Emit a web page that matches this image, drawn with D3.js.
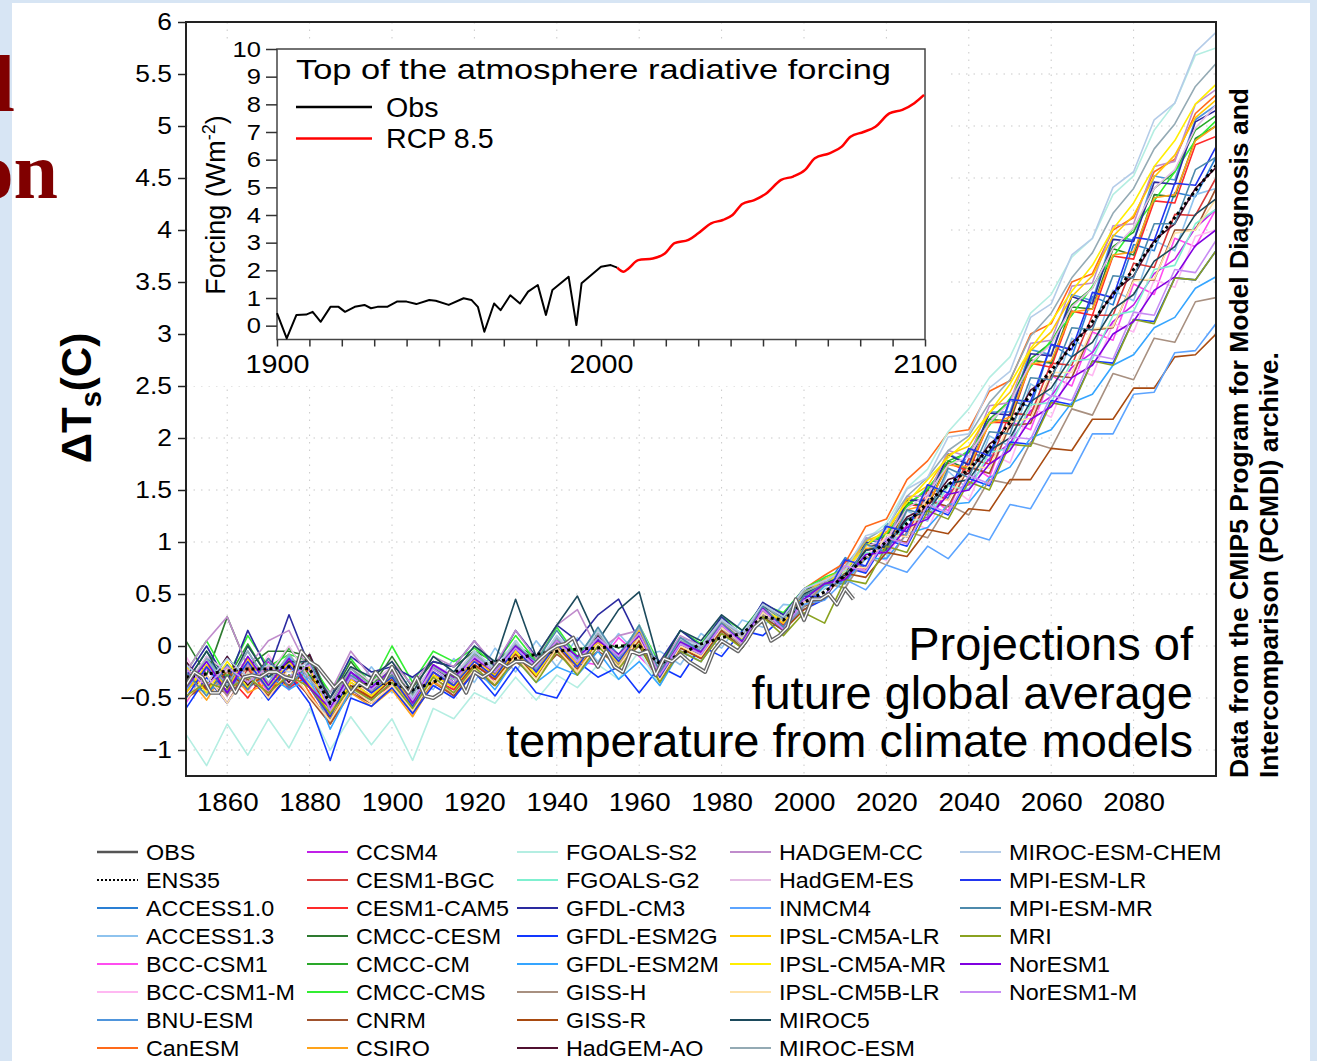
<!DOCTYPE html>
<html>
<head>
<meta charset="utf-8">
<script src="https://cdn.jsdelivr.net/npm/d3@7"></script>
<style>
  body { margin: 0; background: #d7e5f4; }
  svg { display: block; }
  text { font-family: "Liberation Sans", Arial, Helvetica, sans-serif; fill: #000; }
</style>
</head>
<body>
<svg id="chart" width="1317" height="1061"></svg>
<script>
// ---- data (temperatures in hundredths of a degree, 5-year steps) ----
var years = [1850,1855,1860,1865,1870,1875,1880,1885,1890,1895,1900,1905,1910,1915,1920,1925,1930,1935,1940,1945,
             1950,1955,1960,1965,1970,1975,1980,1985,1990,1995,2000,2005,2010,2015,2020,2025,2030,2035,2040,2045,
             2050,2055,2060,2065,2070,2075,2080,2085,2090,2095,2100];

var modelNames = ["ACCESS1.0","ACCESS1.3","BCC-CSM1","BCC-CSM1-M","BNU-ESM","CanESM",
  "CCSM4","CESM1-BGC","CESM1-CAM5","CMCC-CESM","CMCC-CM","CMCC-CMS","CNRM","CSIRO",
  "FGOALS-S2","FGOALS-G2","GFDL-CM3","GFDL-ESM2G","GFDL-ESM2M","GISS-H","GISS-R","HadGEM-AO",
  "HADGEM-CC","HadGEM-ES","INMCM4","IPSL-CM5A-LR","IPSL-CM5A-MR","IPSL-CM5B-LR","MIROC5","MIROC-ESM",
  "MIROC-ESM-CHEM","MPI-ESM-LR","MPI-ESM-MR","MRI","NorESM1","NorESM1-M"];

var modelColors = ["#2a7fd4","#8ec3ee","#ff4df0","#ffb8f2","#4f95dc","#ff6a1a",
  "#c020e8","#d93a3a","#ff2a2a","#2e7a30","#2aa82a","#33ee33","#a0522d","#ffa31a",
  "#b4eee2","#7ff0d0","#2a2aa0","#1238ff","#35a5ff","#a89080","#a84a10","#501030",
  "#c08ccc","#e4bce4","#5ca4ff","#ffc800","#ffee00","#ffe2a8","#1c4a5c","#94aab4",
  "#b4cce8","#2236f0","#4d8aac","#8aa220","#8000e0","#c88cf4"];

var modelTemps = [
  [-45,-10,-35,-5,-38,-12,-30,-62,-25,-45,-30,-50,-20,-38,-10,-28,0,-22,8,-15,10,-12,15,-28,5,-8,22,5,38,20,50, 55,85,75,118,105,155,142,188,178,236,230,290,278,336,328,386,380,436,432,470],
  [-20,-42,-10,-38,-18,-30,-8,-50,-48,-20,-45,-30,-42,-12,-35,-2,-25,5,-20,8,-15,12,-10,-5,-18,12,-2,25,18,40,38, 62,55,98,84,130,120,168,150,202,192,252,240,296,282,342,332,390,380,434,440],
  [-55,-22,-48,-15,-45,-20,-40,-70,-40,-52,-35,-62,-32,-42,-18,-32,-8,-28,-2,-15,-18,8,-10,-30,0,-10,18,10,32,22,45, 45,82,72,110,98,145,130,176,162,216,208,260,250,302,294,348,338,392,384,420],
  [-10,-42,-18,-45,-8,-38,-15,-55,-28,-52,-22,-48,-32,-30,-20,-22,-8,-18,5,-18,6,-14,12,-25,2,0,15,5,35,15,50, 62,60,94,82,122,112,155,140,186,176,230,220,268,260,310,302,352,345,394,400],
  [-38,-15,-28,-18,-25,-15,-30,-58,-20,-45,-22,-50,-20,-35,-5,-28,5,-20,10,-12,12,-8,18,-18,8,2,25,8,42,25,52, 65,64,104,96,142,138,185,175,225,225,285,280,338,332,395,390,452,448,506,520],
  [-50,-35,-42,-20,-48,-12,-45,-75,-40,-48,-32,-58,-28,-38,-20,-28,-10,-20,-5,-12,2,-10,5,-28,-2,-5,18,12,38,28,55, 68,80,115,122,160,178,205,208,245,255,300,310,350,358,400,412,456,468,512,530],
  [-25,-40,-30,-42,-15,-42,-18,-65,-35,-48,-30,-55,-25,-40,-12,-35,-2,-25,2,-20,10,-12,8,-28,5,-10,20,0,35,18,45, 58,65,88,92,116,124,148,155,180,195,226,240,268,282,312,328,358,372,402,420],
  [-52,-28,-55,-22,-50,-28,-48,-72,-42,-55,-40,-65,-32,-48,-22,-38,-12,-28,-4,-25,2,-18,10,-35,-2,-12,15,2,32,20,42, 45,82,74,110,105,150,140,180,175,224,222,272,270,318,318,368,364,415,414,450],
  [-30,-40,-28,-50,-20,-40,-28,-68,-40,-50,-38,-62,-32,-42,-18,-32,-8,-30,0,-20,5,-15,10,-30,-5,-10,14,5,30,22,40, 58,64,98,94,136,134,176,168,215,215,272,268,322,318,375,372,428,426,482,490],
  [5,-28,28,-20,-5,-5,-10,-50,-15,-40,-10,-40,-15,-20,-5,-15,0,-10,2,-5,5,-2,8,-20,8,-5,22,10,35,28,50, 60,62,100,92,138,134,178,170,218,216,275,272,326,324,382,376,434,432,488,500],
  [-35,-5,-32,2,-30,-2,-28,-55,-20,-38,-22,-48,-18,-30,-8,-20,-2,-12,2,-5,5,-8,12,-22,5,-2,20,10,38,25,52, 64,70,98,106,136,150,178,186,218,236,276,292,328,344,384,398,440,456,496,510],
  [-25,5,-30,10,-20,-8,-15,-45,-12,-38,0,-35,-5,-15,-2,-18,10,-15,18,-10,15,-12,20,-18,15,2,28,15,40,32,55, 66,74,98,108,134,152,174,188,212,238,268,294,318,346,374,402,428,456,486,505],
  [-50,-38,-45,-32,-48,-20,-50,-75,-45,-55,-40,-62,-35,-48,-25,-38,-15,-30,-8,-22,-5,-18,0,-35,-5,-15,12,0,28,15,38, 46,74,72,102,100,140,134,172,166,212,214,260,258,304,306,352,352,400,400,440],
  [-28,-52,-20,-45,-35,-38,-22,-70,-45,-58,-42,-68,-35,-45,-22,-35,-8,-30,0,-25,5,-20,10,-28,2,-8,18,5,32,22,45, 58,64,94,94,131,136,174,172,214,220,271,274,321,324,376,379,431,434,486,500],
  [-85,-115,-75,-105,-70,-98,-60,-100,-68,-95,-70,-110,-60,-70,-45,-55,-30,-52,-28,-40,-18,-32,-5,-38,-2,-15,15,0,30,15,40, 56,72,102,118,152,170,206,228,258,278,320,338,374,392,434,452,496,522,568,575],
  [-40,-12,-45,-15,-40,-8,-38,-58,-28,-40,-25,-50,-22,-35,-10,-25,0,-22,5,-18,10,-14,16,-28,4,-6,20,4,36,18,44, 60,62,90,88,121,122,154,150,186,190,232,234,274,276,318,322,362,366,406,420],
  [-30,0,-35,15,-25,30,-20,-50,-10,-25,-20,-30,-15,-20,5,-20,15,-10,20,5,30,45,5,-15,15,0,28,10,42,30,55, 60,62,100,94,140,140,184,174,224,222,281,279,336,329,391,389,446,444,504,515],
  [-60,-30,-55,-25,-52,-28,-55,-110,-50,-58,-40,-65,-38,-50,-25,-48,-20,-45,-50,-15,-30,-20,-45,-20,-30,0,-10,15,10,28,35, 45,76,70,102,96,134,126,161,154,196,194,236,232,274,272,314,312,354,352,380],
  [-35,-45,-30,-40,-28,-42,-30,-80,-42,-52,-35,-62,-32,-45,-20,-42,-12,-35,-20,-28,-5,-32,-15,-38,-5,-15,15,-2,28,15,38, 58,62,84,84,108,114,136,138,162,172,200,208,234,242,270,280,306,316,344,355],
  [-45,-20,-48,-18,-42,-15,-40,-70,-35,-48,-30,-52,-25,-38,-15,-30,-5,-28,0,-18,5,-18,8,-30,0,-10,18,0,30,18,38, 60,56,86,78,110,104,136,126,160,156,196,190,228,222,262,256,296,292,331,335],
  [-28,-42,-25,-40,-25,-38,-22,-72,-38,-50,-32,-55,-28,-40,-18,-32,-8,-30,-2,-20,2,-20,5,-32,-2,-12,15,-2,28,15,35, 48,70,66,90,86,112,108,132,130,160,160,190,188,218,218,248,248,278,280,300],
  [-15,-40,-10,-38,-12,-35,-8,-55,-25,-42,-28,-50,-20,-35,-10,-28,0,-22,5,-13,10,-12,15,-25,5,-5,22,5,36,22,48, 60,66,92,96,124,134,160,166,194,210,246,260,292,308,340,356,390,406,440,460],
  [-25,5,28,-20,5,15,-25,-45,-5,-30,-15,-38,-10,-20,5,-18,15,-12,20,35,-5,10,15,-20,10,0,25,10,40,28,55, 62,64,104,99,144,144,188,182,231,234,291,294,346,349,404,406,461,466,521,535],
  [-38,-10,-25,-15,-28,0,-32,-52,-20,-35,-20,-45,-18,-28,-5,-22,5,-18,10,-12,13,-15,18,-22,8,-4,24,8,38,22,50, 60,68,96,102,132,146,174,182,215,234,272,290,326,344,382,402,440,458,498,520],
  [-42,-15,-40,-12,-38,-10,-35,-62,-30,-42,-25,-50,-20,-32,-10,-25,0,-22,5,-13,8,-10,12,-25,5,-5,20,2,32,18,40, 44,64,54,78,71,96,84,108,102,136,132,166,166,204,204,242,244,282,284,310],
  [-45,-18,-40,-12,-42,-15,-38,-65,-32,-45,-28,-55,-25,-38,-12,-28,-2,-25,5,-18,8,-15,15,-28,2,-8,22,5,35,22,50, 64,74,101,109,141,154,184,192,224,244,284,302,336,356,394,414,451,472,508,525],
  [-20,-45,-15,-40,-18,-30,-20,-68,-35,-48,-30,-58,-28,-40,-15,-30,-5,-28,2,-20,5,-16,12,-30,0,-10,20,6,34,25,52, 60,73,96,113,138,160,181,199,224,252,286,312,341,366,401,426,461,486,521,540],
  [-52,-28,-55,-25,-50,-22,-48,-72,-40,-55,-38,-62,-32,-45,-22,-35,-10,-32,-2,-25,2,-20,8,-32,0,-10,18,2,32,18,42, 47,77,75,107,105,143,140,173,171,215,219,263,263,305,307,351,353,397,400,430],
  [-35,-5,-40,0,-30,-15,-15,-50,-20,-30,-15,-45,-10,-25,0,-15,45,-10,20,48,5,35,52,-20,15,5,30,15,38,28,50, 60,68,92,96,122,130,156,160,188,200,235,248,278,292,324,338,370,384,415,430],
  [-40,-12,-38,-5,-35,-8,-32,-55,-22,-38,-25,-48,-20,-32,-8,-22,2,-20,8,-15,12,-13,18,-25,5,-2,24,10,40,25,52, 60,77,102,114,144,162,188,202,234,256,298,320,354,378,416,440,478,502,538,560],
  [-18,-35,-12,-30,-18,-25,-15,-58,-25,-40,-22,-50,-18,-30,-5,-22,5,-18,10,-15,15,-12,20,-22,7,0,25,12,40,28,55, 63,73,106,112,151,162,201,204,248,264,316,329,376,392,441,456,506,522,571,590],
  [-50,-20,-45,-15,-42,-18,-40,-68,-30,-45,-30,-58,-25,-38,-15,-30,-2,-25,2,-20,8,-15,13,-30,2,-8,20,5,35,18,48, 47,83,77,115,110,155,147,190,183,237,235,290,285,340,335,393,390,445,443,480],
  [-25,-48,-18,-42,-12,-40,-15,-60,-28,-42,-28,-52,-22,-35,-10,-25,0,-15,15,-12,18,-12,20,-25,8,-5,22,5,38,18,48, 60,60,98,90,131,126,171,162,206,204,258,256,306,304,356,354,406,406,458,470],
  [-48,-35,-42,-30,-45,-28,-40,-65,-40,-52,-35,-60,-30,-45,-20,-38,-12,-35,-5,-28,0,-22,2,-35,-5,-15,12,-2,28,10,32, 22,64,60,96,90,130,122,158,150,194,192,234,230,274,270,314,310,354,352,380],
  [-40,-15,-45,-10,-38,-12,-40,-60,-25,-40,-22,-55,-18,-30,-12,-25,0,-18,5,-10,5,-8,10,-28,4,-6,20,4,36,15,45, 60,64,88,90,114,122,146,150,175,188,218,230,258,270,300,312,342,355,385,400],
  [-22,-38,-20,-35,-20,-30,-18,-62,-30,-42,-25,-52,-22,-35,-10,-25,-2,-20,5,-15,8,-10,12,-28,2,-8,20,2,35,16,44, 47,77,72,104,98,136,128,164,156,201,199,241,236,280,276,321,318,362,359,390]
];

var ensTemps = [-30,-27,-24,-22,-22,-20,-22,-55,-40,-36,-36,-42,-35,-25,-20,-15,-12,-8,-5,-3,-2,0,0,-17,-8,2,8,12,28,25,42,
                52,68,85,100,118,138,155,170,190,215,242,265,288,312,338,362,388,412,438,462];

// observed record, [year, degC]
var obsTemps = [[1850,-0.38],[1852,-0.25],[1854,-0.30],[1856,-0.45],[1858,-0.45],[1860,-0.30],[1862,-0.45],[1864,-0.30],
  [1866,-0.28],[1868,-0.30],[1870,-0.25],[1872,-0.25],[1874,-0.30],[1876,-0.32],[1878,-0.05],[1880,-0.15],[1882,-0.20],
  [1884,-0.30],[1886,-0.40],[1888,-0.32],[1890,-0.45],[1892,-0.35],[1894,-0.40],[1896,-0.25],[1898,-0.35],[1900,-0.20],
  [1902,-0.35],[1904,-0.45],[1906,-0.30],[1908,-0.48],[1910,-0.50],[1912,-0.45],[1914,-0.25],[1916,-0.30],[1918,-0.45],
  [1920,-0.25],[1922,-0.30],[1924,-0.25],[1926,-0.15],[1928,-0.20],[1930,-0.15],[1932,-0.15],[1934,-0.20],[1936,-0.12],
  [1938,-0.05],[1940,0.00],[1942,0.02],[1944,0.08],[1946,-0.10],[1948,-0.08],[1950,-0.20],[1952,-0.05],[1954,-0.20],
  [1956,-0.25],[1958,-0.05],[1960,-0.08],[1962,-0.05],[1964,-0.28],[1966,-0.12],[1968,-0.15],[1970,-0.08],[1972,-0.15],
  [1974,-0.20],[1976,-0.25],[1978,-0.05],[1980,0.05],[1982,0.00],[1984,-0.05],[1986,0.05],[1988,0.18],[1990,0.25],
  [1992,0.05],[1994,0.10],[1996,0.18],[1998,0.45],[2000,0.25],[2002,0.45],[2004,0.45],[2006,0.50],[2008,0.40],
  [2010,0.55],[2012,0.45]];

// inset forcing, [year, W m-2]
var forcingObs = [[1900,0.45],[1903,-0.46],[1906,0.39],[1909,0.4],[1911,0.5],[1913.5,0.14],[1916.5,0.68],[1919,0.68],
  [1921,0.5],[1924,0.68],[1927,0.75],[1929,0.63],[1931,0.68],[1934,0.68],[1937,0.87],[1940,0.87],[1943,0.78],[1947,0.93],
  [1949,0.9],[1953,0.75],[1957.6,0.99],[1960,0.93],[1962,0.68],[1964,-0.22],[1967,0.8],[1969,0.56],[1972,1.1],[1975,0.8],
  [1977.5,1.23],[1980.5,1.47],[1983,0.39],[1985,1.29],[1990,1.77],[1992.4,0.02],[1994,1.53],[1997,1.83],[2000,2.13],
  [2003,2.19],[2005,2.1]];
var forcingRcp = [[2005,2.1],[2007,1.95],[2008.5,2.07],[2011.5,2.37],[2016,2.43],[2019.7,2.61],[2022.7,2.98],[2027,3.1],
  [2030,3.34],[2034,3.7],[2037.6,3.82],[2040.6,4.0],[2043.6,4.4],[2047.3,4.54],[2051,4.78],[2055.6,5.27],[2059.3,5.39],
  [2063,5.63],[2066,6.05],[2070.5,6.23],[2074.3,6.47],[2077,6.83],[2081,7.0],[2084.7,7.19],[2089,7.67],[2093,7.8],
  [2096.7,8.04],[2099.7,8.34]];

var yTicks = [-1,-0.5,0,0.5,1,1.5,2,2.5,3,3.5,4,4.5,5,5.5,6];
var xTicks = [1860,1880,1900,1920,1940,1960,1980,2000,2020,2040,2060,2080];
var insetYTicks = [0,1,2,3,4,5,6,7,8,9,10];
var insetXTicks = [1900,1910,1920,1930,1940,1950,1960,1970,1980,1990,2000,2010,2020,2030,2040,2050,2060,2070,2080,2090,2100];
var insetXLabels = [1900,2000,2100];

// ---- drawing ----
var svg = d3.select("#chart");

function stretch(sel, k) {
  sel.each(function() {
    var w = this.getComputedTextLength();
    d3.select(this).attr("textLength", w * k).attr("lengthAdjust", "spacingAndGlyphs");
  });
}

svg.append("rect").attr("x", 12).attr("y", 3).attr("width", 1298).attr("height", 1058).attr("fill", "#fff");

// slide title fragments at left edge
svg.append("text").attr("x", 15).attr("y", 111).attr("text-anchor", "end")
   .style("font-family", "'Liberation Serif','Times New Roman',serif").style("font-weight", "bold")
   .style("font-size", "80px").style("fill", "#800000").text("l");
svg.append("text").attr("x", 58).attr("y", 198).attr("text-anchor", "end")
   .style("font-family", "'Liberation Serif','Times New Roman',serif").style("font-weight", "bold")
   .style("font-size", "80px").style("fill", "#800000").text("on");

var x = d3.scaleLinear().domain([1850, 2100]).range([186, 1216]);
var y = d3.scaleLinear().domain([-1.25, 6]).range([776, 22]);

// grid
var grid = svg.append("g").attr("stroke", "#c9c9c9").attr("stroke-width", 1).attr("stroke-dasharray", "1.5,6");
grid.selectAll(".gy").data(yTicks).enter().append("line")
    .attr("x1", 186).attr("x2", 1216).attr("y1", function(d) { return y(d); }).attr("y2", function(d) { return y(d); });
grid.selectAll(".gx").data(xTicks).enter().append("line")
    .attr("y1", 22).attr("y2", 776).attr("x1", function(d) { return x(d); }).attr("x2", function(d) { return x(d); });

svg.append("clipPath").attr("id", "plotclip").append("rect")
   .attr("x", 186).attr("y", 22).attr("width", 1030).attr("height", 754);

var plot = svg.append("g").attr("clip-path", "url(#plotclip)");

var modelLine = d3.line()
    .x(function(d, i) { return x(years[i]); })
    .y(function(d) { return y(d / 100); });

plot.selectAll(".model").data(modelTemps).enter().append("path")
    .attr("class", "model")
    .attr("d", modelLine)
    .attr("fill", "none")
    .attr("stroke", function(d, i) { return modelColors[i]; })
    .attr("stroke-width", 1.6)
    .attr("stroke-linejoin", "round");

plot.append("path").attr("d", modelLine(ensTemps))
    .attr("fill", "none").attr("stroke", "#000").attr("stroke-width", 3).attr("stroke-dasharray", "3,3");

var obsLine = d3.line().x(function(d) { return x(d[0]); }).y(function(d) { return y(d[1]); });
plot.append("path").attr("d", obsLine(obsTemps))
    .attr("fill", "none").attr("stroke", "#666").attr("stroke-width", 4).attr("stroke-linejoin", "round");
plot.append("path").attr("d", obsLine(obsTemps))
    .attr("fill", "none").attr("stroke", "#fff").attr("stroke-width", 1.3).attr("stroke-linejoin", "round");

// frame and axes
svg.append("rect").attr("x", 186).attr("y", 22).attr("width", 1030).attr("height", 754)
   .attr("fill", "none").attr("stroke", "#222").attr("stroke-width", 2);

var yAxis = svg.append("g").attr("transform", "translate(186,0)")
   .call(d3.axisLeft(y).tickValues(yTicks).tickSize(8).tickPadding(6)
         .tickFormat(function(d) { return String(d).replace("-", "\u2212"); }));
yAxis.select(".domain").remove();
yAxis.selectAll("line").attr("stroke", "#222").attr("stroke-width", 1.5);
yAxis.selectAll("text").style("font-size", "24px").style("font-family", "'Liberation Sans',Arial,sans-serif").call(stretch, 1.1);

var xAxis = svg.append("g").attr("transform", "translate(0,776)")
   .call(d3.axisBottom(x).tickValues(xTicks).tickSize(0).tickPadding(17).tickFormat(d3.format("d")));
xAxis.select(".domain").remove();
xAxis.selectAll("text").style("font-size", "25px").style("font-family", "'Liberation Sans',Arial,sans-serif").call(stretch, 1.11);

// y axis title
var yTitle = svg.append("text").attr("transform", "translate(91,398) rotate(-90)")
   .attr("text-anchor", "middle").style("font-size", "42px").style("font-weight", "bold");
yTitle.append("tspan").text("\u0394T");
yTitle.append("tspan").attr("dy", 10).style("font-size", "29px").text("s");
yTitle.append("tspan").attr("dy", -10).text("(C)");

// overlay caption
var caption = ["Projections of", "future global average", "temperature from climate models"];
svg.selectAll(".cap").data(caption).enter().append("text")
   .attr("x", 1193).attr("y", function(d, i) { return 660 + i * 48.5; })
   .attr("text-anchor", "end").style("font-size", "47px").text(function(d) { return d; });

// vertical credit
svg.append("text").attr("transform", "translate(1248,778) rotate(-90)")
   .style("font-size", "25px").style("font-weight", "bold")
   .attr("textLength", 690).attr("lengthAdjust", "spacingAndGlyphs")
   .text("Data from the CMIP5 Program for Model Diagnosis and");
svg.append("text").attr("transform", "translate(1278,778) rotate(-90)")
   .style("font-size", "25px").style("font-weight", "bold")
   .attr("textLength", 426).attr("lengthAdjust", "spacingAndGlyphs")
   .text("Intercomparison (PCMDI) archive.");

// ---- inset ----
var ix = d3.scaleLinear().domain([1900, 2100]).range([277, 925]);
var iy = d3.scaleLinear().domain([-0.5, 10]).range([339.5, 49]);

svg.append("rect").attr("x", 190).attr("y", 44).attr("width", 760).attr("height", 342).attr("fill", "#fff");
svg.append("rect").attr("x", 277).attr("y", 49).attr("width", 648).attr("height", 290.5)
   .attr("fill", "none").attr("stroke", "#444").attr("stroke-width", 1.5);

var iyAxis = svg.append("g").attr("transform", "translate(277,0)")
   .call(d3.axisLeft(iy).tickValues(insetYTicks).tickSize(11).tickPadding(5));
iyAxis.select(".domain").remove();
iyAxis.selectAll("line").attr("stroke", "#333").attr("stroke-width", 1.5);
iyAxis.selectAll("text").style("font-size", "22px").style("font-family", "'Liberation Sans',Arial,sans-serif").call(stretch, 1.16);

var ixAxis = svg.append("g").attr("transform", "translate(0,339.5)")
   .call(d3.axisBottom(ix).tickValues(insetXTicks).tickSize(7).tickPadding(9)
         .tickFormat(function(d) { return insetXLabels.indexOf(d) >= 0 ? d : ""; }));
ixAxis.select(".domain").remove();
ixAxis.selectAll("line").attr("stroke", "#333").attr("stroke-width", 1.5);
ixAxis.selectAll("text").style("font-size", "25px").style("font-family", "'Liberation Sans',Arial,sans-serif").call(stretch, 1.15);

var iTitle = svg.append("text").attr("transform", "translate(225,205) rotate(-90)")
   .attr("text-anchor", "middle").style("font-size", "27px");
iTitle.append("tspan").text("Forcing (Wm");
iTitle.append("tspan").attr("dy", -10).style("font-size", "18px").text("-2");
iTitle.append("tspan").attr("dy", 10).text(")");

var forcingLine = d3.line().x(function(d) { return ix(d[0]); }).y(function(d) { return iy(d[1]); });
svg.append("path").attr("d", forcingLine(forcingObs)).attr("fill", "none")
   .attr("stroke", "#000").attr("stroke-width", 2).attr("stroke-linejoin", "round");
svg.append("path").attr("d", forcingLine.curve(d3.curveMonotoneX)(forcingRcp)).attr("fill", "none")
   .attr("stroke", "#f00").attr("stroke-width", 2.5);

svg.append("text").attr("x", 296).attr("y", 79).style("font-size", "28px")
   .attr("textLength", 595).attr("lengthAdjust", "spacingAndGlyphs")
   .text("Top of the atmosphere radiative forcing");

var insetKeys = [{ name: "Obs", color: "#000", y: 107 }, { name: "RCP 8.5", color: "#f00", y: 138.5 }];
svg.selectAll(".ikey").data(insetKeys).enter().append("line")
   .attr("x1", 296).attr("x2", 372).attr("y1", function(d) { return d.y; }).attr("y2", function(d) { return d.y; })
   .attr("stroke", function(d) { return d.color; }).attr("stroke-width", 2.5);
svg.selectAll(".ikeyt").data(insetKeys).enter().append("text")
   .attr("x", 386).attr("y", function(d) { return d.y + 9.5; })
   .style("font-size", "27px").text(function(d) { return d.name; })
   .call(stretch, 1.06);

// ---- legend ----
var legendItems = [{ name: "OBS", color: "#555", dash: null }, { name: "ENS35", color: "#000", dash: "2,2" }]
  .concat(modelNames.map(function(n, i) { return { name: n, color: modelColors[i], dash: null }; }));
var legendCols = [97, 307, 517, 730, 960];

var leg = svg.append("g").selectAll("g").data(legendItems).enter().append("g")
   .attr("transform", function(d, i) {
     return "translate(" + legendCols[Math.floor(i / 8)] + "," + (852 + (i % 8) * 28) + ")";
   });
leg.append("line").attr("x1", 0).attr("x2", 41)
   .attr("stroke", function(d) { return d.color; })
   .attr("stroke-width", function(d, i) { return i === 0 ? 2.5 : 2; })
   .attr("stroke-dasharray", function(d) { return d.dash; });
leg.append("text").attr("x", 49).attr("y", 8).style("font-size", "22px")
   .text(function(d) { return d.name; })
   .call(stretch, 1.06);
</script>
</body>
</html>
